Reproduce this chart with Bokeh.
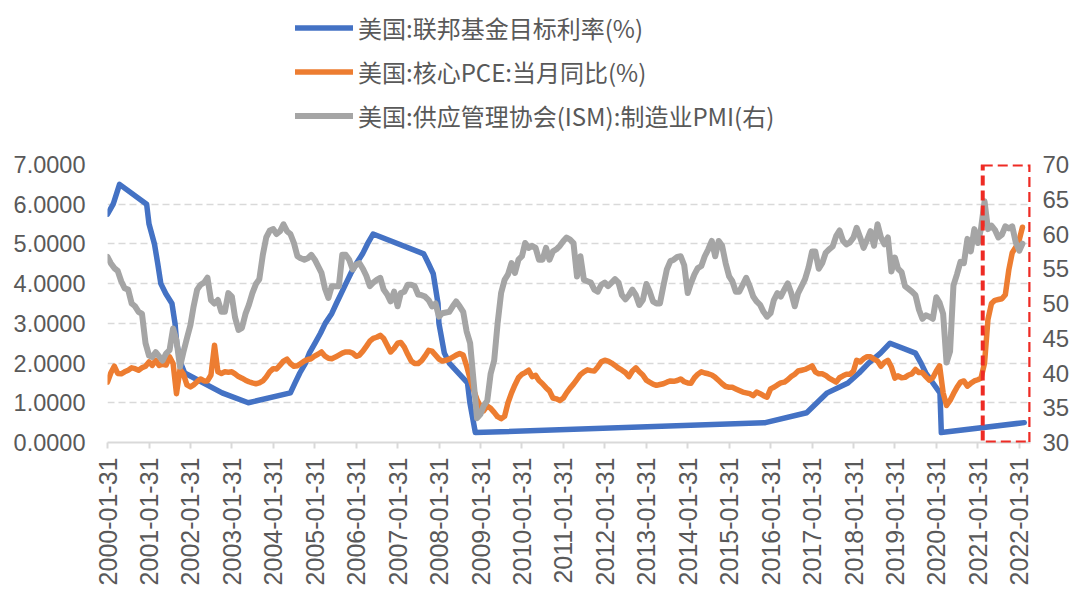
import pandas as pd
from bokeh.plotting import figure
from bokeh.layouts import column
from bokeh.models import (Range1d, LinearAxis, FixedTicker, DatetimeTickFormatter,
                          Legend, LegendItem, BoxAnnotation, NumeralTickFormatter,
                          ColumnDataSource)
from bokeh.embed import file_html
from bokeh.resources import INLINE
from math import pi

# ---------------- data ----------------
series_names = ["美国:联邦基金目标利率(%)", "美国:核心PCE:当月同比(%)", "美国:供应管理协会(ISM):制造业PMI(右)"]

first_month = "2000-01"

core_pce = [
    1.52, 1.75, 1.92, 1.74, 1.73, 1.78, 1.82, 1.88, 1.86, 1.82, 1.88, 1.92,   # 2000
    2.03, 1.94, 2.07, 1.94, 1.97, 1.95, 2.16, 1.99, 1.23, 1.84, 1.72, 1.45,   # 2001
    1.40, 1.45, 1.53, 1.60, 1.55, 1.55, 1.70, 2.45, 1.78, 1.74, 1.78, 1.77,   # 2002
    1.78, 1.73, 1.66, 1.62, 1.57, 1.53, 1.50, 1.48, 1.50, 1.55, 1.65, 1.78,   # 2003
    1.86, 1.85, 1.95, 2.05, 2.10, 1.99, 1.92, 1.93, 1.99, 2.05, 2.09, 2.11,   # 2004
    2.18, 2.22, 2.28, 2.18, 2.12, 2.11, 2.15, 2.20, 2.25, 2.28, 2.28, 2.25,   # 2005
    2.17, 2.20, 2.30, 2.42, 2.55, 2.62, 2.65, 2.70, 2.62, 2.45, 2.28, 2.37,   # 2006
    2.50, 2.52, 2.40, 2.22, 2.05, 1.99, 1.99, 2.06, 2.18, 2.32, 2.30, 2.20,   # 2007
    2.10, 2.05, 2.07, 2.10, 2.15, 2.20, 2.24, 2.20, 1.93, 1.60, 1.33, 1.08,   # 2008
    0.90, 0.80, 0.92, 0.86, 0.76, 0.65, 0.60, 0.66, 1.00, 1.25, 1.45, 1.63,   # 2009
    1.72, 1.76, 1.82, 1.66, 1.69, 1.56, 1.48, 1.38, 1.30, 1.12, 1.10, 1.06,   # 2010
    1.12, 1.25, 1.37, 1.47, 1.59, 1.71, 1.78, 1.83, 1.81, 1.80, 1.90, 2.03,   # 2011
    2.07, 2.05, 2.00, 1.94, 1.87, 1.82, 1.76, 1.66, 1.80, 1.88, 1.78, 1.70,   # 2012
    1.57, 1.52, 1.47, 1.44, 1.46, 1.48, 1.52, 1.55, 1.54, 1.56, 1.60, 1.53,   # 2013
    1.50, 1.49, 1.63, 1.72, 1.78, 1.75, 1.73, 1.70, 1.64, 1.56, 1.48, 1.41,   # 2014
    1.39, 1.39, 1.35, 1.31, 1.27, 1.25, 1.23, 1.18, 1.27, 1.23, 1.18, 1.14,   # 2015
    1.35, 1.39, 1.45, 1.50, 1.52, 1.58, 1.66, 1.72, 1.80, 1.82, 1.84, 1.88,   # 2016
    1.93, 1.78, 1.73, 1.73, 1.69, 1.62, 1.57, 1.52, 1.63, 1.68, 1.72, 1.72,   # 2017
    1.80, 2.07, 2.03, 2.11, 2.16, 2.16, 2.10, 2.05, 1.92, 2.02, 2.07, 1.90,   # 2018
    1.62, 1.68, 1.63, 1.64, 1.70, 1.73, 1.84, 1.76, 1.76, 1.66, 1.57, 1.63,   # 2019
    1.80, 1.93, 1.25, 0.93, 1.06, 1.23, 1.39, 1.52, 1.55, 1.42, 1.49, 1.55,   # 2020
    1.58, 1.62, 2.00, 3.10, 3.50, 3.58, 3.60, 3.62, 3.72, 4.35, 4.78, 4.92,   # 2021
    5.10, 5.42,                                                               # 2022
]

ism_pmi = [
    56.7, 55.8, 55.1, 54.7, 53.2, 52.2, 52.0, 50.0, 49.6, 48.8, 48.5, 44.3,   # 2000
    42.5, 42.3, 43.0, 42.4, 41.8, 42.8, 43.3, 46.4, 44.7, 40.9, 43.0, 45.0,   # 2001
    46.9, 49.6, 52.0, 52.7, 53.0, 53.7, 50.5, 50.0, 50.5, 48.8, 48.8, 51.5,   # 2002
    51.0, 48.0, 46.2, 46.5, 48.5, 49.8, 51.5, 52.8, 53.5, 57.0, 59.5, 60.5,   # 2003
    60.7, 60.0, 60.4, 61.4, 60.4, 60.0, 58.7, 56.8, 56.5, 56.3, 56.5, 57.0,   # 2004
    56.3, 55.4, 54.4, 52.2, 50.8, 52.5, 52.5, 52.5, 57.0, 57.0, 56.3, 54.9,   # 2005
    55.6, 55.8, 55.0, 54.0, 52.5, 53.0, 53.4, 53.7, 52.0, 51.3, 50.3, 51.7,   # 2006
    49.6, 51.5, 51.7, 52.7, 52.7, 52.5, 51.3, 51.2, 51.0, 50.5, 49.6, 50.0,   # 2007
    48.1, 48.6, 48.7, 48.8, 49.6, 50.3, 49.6, 48.8, 46.0, 44.3, 38.9, 33.5,   # 2008
    34.1, 35.3, 36.0, 39.9, 41.8, 47.1, 51.5, 53.4, 54.2, 55.8, 54.4, 56.3,   # 2009
    56.8, 58.7, 58.0, 58.3, 58.0, 56.3, 56.3, 58.0, 56.3, 57.5, 57.8, 58.3,   # 2010
    59.0, 59.5, 59.2, 58.7, 53.9, 56.8, 53.4, 53.2, 53.0, 52.0, 51.7, 52.7,   # 2011
    53.0, 52.5, 53.0, 53.5, 53.0, 51.2, 50.6, 51.2, 52.0, 51.2, 49.8, 50.5,   # 2012
    52.8, 51.8, 50.3, 50.0, 50.0, 52.5, 54.9, 56.1, 56.3, 56.7, 56.8, 55.5,   # 2013
    51.5, 52.9, 54.2, 55.1, 55.4, 56.8, 57.8, 59.0, 56.8, 59.0, 58.3, 55.8,   # 2014
    53.9, 53.2, 51.7, 51.7, 52.7, 53.7, 52.5, 51.0, 50.3, 49.8, 48.8, 48.1,   # 2015
    48.6, 50.5, 51.5, 51.0, 52.0, 52.9, 51.5, 49.6, 51.5, 52.5, 53.5, 55.2,   # 2016
    57.5, 57.5, 55.0, 55.8, 57.3, 57.8, 58.2, 59.7, 60.5, 59.0, 58.5, 58.8,   # 2017
    59.5, 60.9, 59.5, 58.0, 59.2, 60.4, 58.3, 61.4, 59.5, 58.5, 59.5, 54.6,   # 2018
    56.6, 55.0, 54.5, 52.5, 52.1, 51.7, 51.2, 49.1, 47.8, 48.3, 48.1, 47.8,   # 2019
    50.9, 50.1, 48.5, 41.5, 43.1, 52.6, 54.2, 56.0, 55.8, 59.3, 57.5, 60.7,   # 2020
    58.7, 60.8, 64.7, 60.7, 61.2, 60.6, 59.5, 59.9, 61.1, 60.8, 61.1, 58.8,   # 2021
    57.6, 58.6,                                                               # 2022
]

fed_dates = [
    "2000-01-31", "2000-03-21", "2000-05-16", "2001-01-10", "2001-01-31", "2001-03-20",
    "2001-04-18", "2001-05-15", "2001-06-27", "2001-08-21", "2001-09-17", "2001-10-02",
    "2001-11-06", "2001-12-11", "2002-11-06", "2003-06-25", "2004-06-30", "2004-08-10",
    "2004-09-21", "2004-11-10", "2004-12-14", "2005-02-02", "2005-03-22", "2005-05-03",
    "2005-06-30", "2005-08-09", "2005-09-20", "2005-11-01", "2005-12-13", "2006-01-31",
    "2006-03-28", "2006-05-10", "2006-06-29", "2007-09-18", "2007-10-31", "2007-12-11",
    "2008-01-22", "2008-01-30", "2008-03-18", "2008-04-30", "2008-10-08", "2008-10-29",
    "2008-12-16", "2015-12-16", "2016-12-14", "2017-03-15", "2017-06-14", "2017-12-13",
    "2018-03-21", "2018-06-13", "2018-09-26", "2018-12-19", "2019-07-31", "2019-09-18",
    "2019-10-30", "2020-03-03", "2020-03-15", "2022-03-16",
]
fed_rate = [
    5.75, 6.00, 6.50, 6.00, 5.50, 5.00,
    4.50, 4.00, 3.75, 3.50, 3.00, 2.50,
    2.00, 1.75, 1.25, 1.00, 1.25, 1.50,
    1.75, 2.00, 2.25, 2.50, 2.75, 3.00,
    3.25, 3.50, 3.75, 4.00, 4.25, 4.50,
    4.75, 5.00, 5.25, 4.75, 4.50, 4.25,
    3.50, 3.00, 2.25, 2.00, 1.50, 1.00,
    0.25, 0.50, 0.75, 1.00, 1.25, 1.50,
    1.75, 2.00, 2.25, 2.50, 2.25, 2.00,
    1.75, 1.25, 0.25, 0.50,
]

x_tick_labels = [
    "2000-01-31", "2001-01-31", "2002-01-31", "2003-01-31", "2004-01-31", "2005-01-31",
    "2006-01-31", "2007-01-31", "2008-01-31", "2009-01-31", "2010-01-31", "2011-01-31",
    "2012-01-31", "2013-01-31", "2014-01-31", "2015-01-31", "2016-01-31", "2017-01-31",
    "2018-01-31", "2019-01-31", "2020-01-31", "2021-01-31", "2022-01-31",
]
left_ticks = [0, 1, 2, 3, 4, 5, 6, 7]
right_ticks = [30, 35, 40, 45, 50, 55, 60, 65, 70]
x_start, x_end = "2000-01-31", "2022-05-10"
highlight_start, highlight_end = "2021-03-15", "2022-05-08"

# ---------------- helpers ----------------
def ms(d):
    return pd.Timestamp(d).value / 1e6

months = (pd.period_range(first_month, periods=len(core_pce), freq="M")
          .to_timestamp(how="end").normalize())

BLUE, ORANGE, GRAY = "#4472C4", "#ED7D31", "#A5A5A5"
COLORS = [BLUE, ORANGE, GRAY]
WIDTHS = [5.5, 5.5, 6]
TXT = "#595959"
NUM_FONT = "Liberation Sans"
CJK_FONT = "Noto Sans CJK SC"

FIG_W = 1072
LEG_H = 140

src_m = ColumnDataSource(dict(x=months, pce=core_pce, pmi=ism_pmi))
src_f = ColumnDataSource(dict(x=pd.to_datetime(fed_dates), y=fed_rate))

# ---------------- main chart ----------------
p = figure(width=FIG_W, height=598 - LEG_H, x_axis_type="datetime",
           output_backend="svg", toolbar_location=None,
           x_range=Range1d(ms(x_start), ms(x_end)), y_range=Range1d(0, 7),
           min_border_left=107, min_border_right=42,
           min_border_top=164 - LEG_H, min_border_bottom=156)
p.outline_line_color = None
p.background_fill_color = "white"
p.border_fill_color = "white"

p.extra_y_ranges = {"pmi": Range1d(30, 70)}

# grid
p.xgrid.visible = False
p.ygrid.ticker = FixedTicker(ticks=left_ticks)
p.ygrid.grid_line_color = "#D9D9D9"
p.ygrid.grid_line_width = 1.5
p.ygrid.grid_line_dash = "7 4"

# x axis
xa = p.xaxis[0]
xa.ticker = FixedTicker(ticks=[ms(t) for t in x_tick_labels])
fmt = "%Y-%m-%d"
xa.formatter = DatetimeTickFormatter(milliseconds=fmt, seconds=fmt, minsec=fmt, minutes=fmt,
                                     hourmin=fmt, hours=fmt, days=fmt, months=fmt, years=fmt)
xa.major_label_orientation = pi / 2
xa.axis_line_color = "#D9D9D9"
xa.axis_line_width = 2
xa.major_tick_line_color = "#D9D9D9"
xa.major_tick_line_width = 2
xa.major_tick_in = 0
xa.major_tick_out = 6
xa.minor_tick_line_color = None
xa.major_label_text_font = NUM_FONT
xa.major_label_text_font_size = "25px"
xa.major_label_text_color = TXT
xa.major_label_standoff = 9

# left axis
ya = p.yaxis[0]
ya.ticker = FixedTicker(ticks=left_ticks)
ya.formatter = NumeralTickFormatter(format="0.0000")
ya.axis_line_color = None
ya.major_tick_line_color = None
ya.minor_tick_line_color = None
ya.major_tick_in = 0
ya.major_tick_out = 0
ya.minor_tick_in = 0
ya.minor_tick_out = 0
ya.major_label_text_font = NUM_FONT
ya.major_label_text_font_size = "23.5px"
ya.major_label_text_color = TXT
ya.major_label_standoff = 22

# right axis
ra = LinearAxis(y_range_name="pmi", ticker=FixedTicker(ticks=right_ticks))
ra.axis_line_color = None
ra.major_tick_line_color = None
ra.minor_tick_line_color = None
ra.major_tick_in = 0
ra.major_tick_out = 0
ra.minor_tick_in = 0
ra.minor_tick_out = 0
ra.major_label_text_font = NUM_FONT
ra.major_label_text_font_size = "24px"
ra.major_label_text_color = TXT
ra.major_label_standoff = 12
p.add_layout(ra, "right")

# lines
p.line("x", "y", source=src_f, line_color=BLUE, line_width=WIDTHS[0],
       line_join="round", line_cap="round")
p.line("x", "pce", source=src_m, line_color=ORANGE, line_width=WIDTHS[1],
       line_join="round", line_cap="round")
p.line("x", "pmi", source=src_m, line_color=GRAY, line_width=WIDTHS[2],
       line_join="round", line_cap="round", y_range_name="pmi")

# highlight box
box = BoxAnnotation(left=ms(highlight_start), right=ms(highlight_end), bottom=0, top=7,
                    fill_alpha=0, fill_color=None, line_color="#EE2B24", line_alpha=1.0,
                    line_width=4, line_dash="10 5")
p.add_layout(box)

# ---------------- legend strip (separate figure above) ----------------
lg = figure(width=FIG_W, height=LEG_H, output_backend="svg", toolbar_location=None,
            x_range=Range1d(0, 1), y_range=Range1d(0, 1),
            min_border_left=0, min_border_right=0, min_border_top=0, min_border_bottom=0)
lg.axis.visible = False
lg.grid.visible = False
lg.outline_line_color = None
lg.background_fill_color = "white"
lg.border_fill_color = "white"

# the same series, drawn out of this strip's view, only to feed the legend swatches
lr = [lg.line("x", "y", source=src_f, line_color=BLUE, line_width=WIDTHS[0], line_cap="round"),
      lg.line("x", "pce", source=src_m, line_color=ORANGE, line_width=WIDTHS[1], line_cap="round"),
      lg.line("x", "pmi", source=src_m, line_color=GRAY, line_width=WIDTHS[2], line_cap="round")]
items = [LegendItem(label=n, renderers=[r]) for n, r in zip(series_names, lr)]

legend = Legend(items=items, location=(188, 7), orientation="vertical",
                glyph_width=58, glyph_height=35, label_height=35,
                label_standoff=5, spacing=9, padding=0, margin=0,
                border_line_color=None, background_fill_alpha=0,
                label_text_font=CJK_FONT, label_text_font_size="24px",
                label_text_color=TXT)
lg.add_layout(legend, "center")

layout = column(lg, p, spacing=0)
open("out.html", "w").write(file_html(layout, INLINE))
